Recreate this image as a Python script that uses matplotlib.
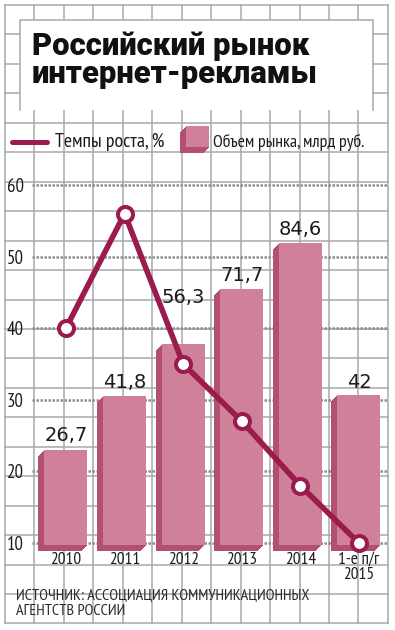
import matplotlib.pyplot as plt
from matplotlib import font_manager
from matplotlib.patches import Rectangle
from matplotlib.transforms import Affine2D, ScaledTranslation

# data
years = ['2010', '2011', '2012', '2013', '2014', '1-е п/г\n2015']
market_volume = [26.7, 41.8, 56.3, 71.7, 84.6, 42]   # объем рынка, млрд руб.
volume_labels = ['26,7', '41,8', '56,3', '71,7', '84,6', '42']
growth_rate = [40, 56, 35, 27, 18, 10]               # темпы роста, %
y_ticks = [10, 20, 30, 40, 50, 60]

title_lines = ['Российский рынок', 'интернет-рекламы']
legend_line_text = 'Темпы роста, %'
legend_bar_text = 'Объем рынка, млрд руб.'
source_lines = ['ИСТОЧНИК: АССОЦИАЦИЯ КОММУНИКАЦИОННЫХ', 'АГЕНТСТВ РОССИИ']

# styles
LINE = '#9b1b4f'
BAR_FRONT = '#cf8199'
BAR_SIDE = '#b3506f'
GRID = '#a8a8a8'
DOT = '#8e8e8e'
INK = '#1c1c1c'

installed = {f.name for f in font_manager.fontManager.ttflist}


def first_font(cands):
    for c in cands:
        if c in installed:
            return c
    return 'DejaVu Sans'


NARROW = first_font(['PT Sans Narrow', 'Roboto Condensed', 'Liberation Sans Narrow',
                     'Fira Sans Condensed', 'Open Sans Condensed', 'Roboto'])
HEAVY = first_font(['Roboto', 'Inter'])

W, H = 395, 630
fig = plt.figure(figsize=(W / 100, H / 100), dpi=100)
renderer = fig.canvas.get_renderer()


def fit(txt, width_px):
    w = txt.get_window_extent(renderer).width
    txt.set_fontsize(txt.get_fontsize() * width_px / w)
    return txt.get_fontsize()


# graph-paper background, in pixel coordinates
bg = fig.add_axes([0, 0, 1, 1], zorder=0)
bg.set_xlim(0, W)
bg.set_ylim(H, 0)
bg.axis('off')
step = 29.45
for k in range(14):
    x = 5 + step * k
    bg.plot([x, x], [5, 5 + step * 21], color=GRID, lw=1.1)
for k in range(22):
    y = 5 + step * k
    bg.plot([5, 5 + step * 13], [y, y], color=GRID, lw=1.1)

# white title box, open at the bottom
bg.add_patch(Rectangle((20, 20), 353, 90, facecolor='white', edgecolor='none', zorder=3))
bg.plot([20, 20, 373, 373], [110, 20, 20, 110], color=GRID, lw=1.1, zorder=4)

t1 = bg.text(32, 55, title_lines[0], fontsize=24, fontweight='black', family=HEAVY,
             color='#111111', va='baseline', ha='left', zorder=5)
t2 = bg.text(32, 83, title_lines[1], fontsize=24, fontweight='black', family=HEAVY,
             color='#111111', va='baseline', ha='left', zorder=5)
t2.set_fontsize(fit(t1, 278))

# legend
bg.plot([12, 47], [142, 142], color=LINE, lw=3.6, solid_capstyle='round', zorder=5)
lt1 = bg.text(55, 142, legend_line_text, fontsize=12, family=NARROW, color=INK,
              va='center', ha='left', zorder=5)
fit(lt1, 110)
for t in range(12, 0, -1):
    bg.add_patch(Rectangle((186 - t / 2, 126 + t / 2), 23, 21, facecolor=BAR_SIDE,
                           edgecolor='none', zorder=5))
bg.add_patch(Rectangle((186, 126), 23, 21, facecolor=BAR_FRONT, edgecolor='none', zorder=6))
lt2 = bg.text(213, 142, legend_bar_text, fontsize=12, family=NARROW, color=INK,
              va='center', ha='left', zorder=5)
fit(lt2, 152)

# source
s1 = bg.text(16, 600, source_lines[0], fontsize=11, family=NARROW, color='#2a2a2a',
             va='baseline', ha='left', zorder=5)
s2 = bg.text(16, 615, source_lines[1], fontsize=11, family=NARROW, color='#2a2a2a',
             va='baseline', ha='left', zorder=5)
s2.set_fontsize(fit(s1, 294))

# font sizes for axis labels, sized on sample strings
probe = bg.text(0, 0, '2010', fontsize=12, family=NARROW)
year_fs = fit(probe, 31)
probe.set_text('60')
probe.set_fontsize(11)
tick_fs = fit(probe, 17)
probe.remove()

# main chart: pixels 32..388 horizontally, 170..545 vertically
ax = fig.add_axes([32 / W, (H - 545) / H, (388 - 32) / W, (545 - 170) / H], zorder=1)
ax.patch.set_visible(False)
ax.set_xlim(-0.58, 5.495)
ax.set_ylim(9.72, 62.09)
for s in ax.spines.values():
    s.set_visible(False)

ax.set_yticks(y_ticks)
ax.set_yticklabels([str(v) for v in y_ticks], family=NARROW, fontsize=tick_fs, color=INK)
ax.tick_params(axis='y', length=0, pad=6)
ax.yaxis.grid(True, color=DOT, lw=1.8, linestyle=(0, (1.0, 0.6)))
ax.set_axisbelow(True)

ax.set_xticks(range(len(years)))
ax.set_xticklabels(years, family=NARROW, fontsize=year_fs, color=INK)
ax.tick_params(axis='x', length=0, pad=5)
for lbl in ax.get_xticklabels():
    lbl.set_linespacing(0.95)

# bars live on their own scale: 0 at the bar baseline, about half an axis unit per billion
bar_trans = Affine2D().scale(1, 0.498).translate(0, 9.72) + ax.transData
bar_w = 0.734
for i, v in enumerate(market_volume):
    for t in range(12, 0, -1):
        shift = ScaledTranslation(-t / 200, -t / 200, fig.dpi_scale_trans)
        ax.add_patch(Rectangle((i - bar_w / 2, 0), bar_w, v, facecolor=BAR_SIDE,
                               edgecolor='none', transform=bar_trans + shift,
                               clip_on=False, zorder=2))
    ax.add_patch(Rectangle((i - bar_w / 2, 0), bar_w, v, facecolor=BAR_FRONT,
                           edgecolor='none', transform=bar_trans, clip_on=False, zorder=3))

label_gap_px = [9, 8, 41, 8, 8, 7]
for i, (v, lbl) in enumerate(zip(market_volume, volume_labels)):
    ax.annotate(lbl, xy=(i, v), xycoords=bar_trans, xytext=(0, label_gap_px[i] * 0.72),
                textcoords='offset points', ha='center', va='baseline',
                fontsize=14, color=INK, zorder=4)

ax.plot(range(len(growth_rate)), growth_rate, color=LINE, lw=4, marker='o', ms=10.8,
        mfc='white', mec=LINE, mew=2.9, clip_on=False, zorder=5)

fig.savefig('out.png', dpi=100)
